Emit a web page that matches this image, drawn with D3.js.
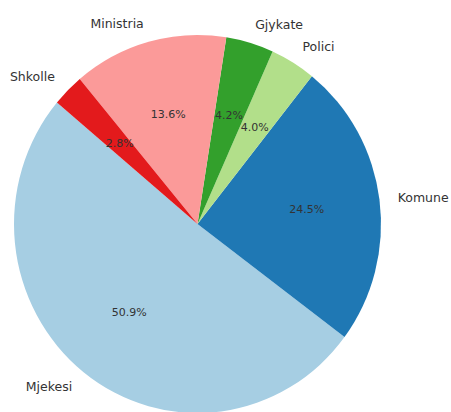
<!DOCTYPE html>
<html>
<head>
<meta charset="utf-8">
<script src="https://cdn.jsdelivr.net/npm/d3@7"></script>
<style>
  html, body { margin: 0; padding: 0; background: #fff; }
  svg { display: block; }
</style>
</head>
<body>
<svg id="chart" width="451" height="412"></svg>
<script>
const categories = ["Mjekesi", "Komune", "Polici", "Gjykate", "Ministria", "Shkolle"];
const values = [50.9, 24.5, 4.0, 4.2, 13.6, 2.8];
const colors = ["#a6cee3", "#1f78b4", "#b2df8a", "#33a02c", "#fb9a99", "#e31a1c"];

const W = 451, H = 412;
const cx = 197.5, cy = 224, RX = 183.5, RY = 189;
const startDeg = 140; // matplotlib-style start angle, counterclockwise

const svg = d3.select("#chart");
const g = svg.append("g").attr("transform", `translate(${cx},${cy})`);
const gp = g.append("g").attr("transform", `scale(1,${RY / RX})`);

const start = (90 - startDeg) * Math.PI / 180;
const pie = d3.pie().sort(null).value(d => d.v)
  .startAngle(start).endAngle(start - 2 * Math.PI);

const data = categories.map((c, i) => ({ c, v: values[i], col: colors[i] }));
const arcs = pie(data);
const total = d3.sum(values);

const arc = d3.arc().innerRadius(0).outerRadius(RX);

gp.selectAll("path.slice").data(arcs).enter().append("path")
  .attr("class", "slice")
  .attr("d", arc)
  .attr("fill", d => d.data.col);

const font = "DejaVu Sans, sans-serif";

function pos(d, f) {
  const a = (d.startAngle + d.endAngle) / 2;
  return [Math.sin(a) * RX * f, -Math.cos(a) * RY * f];
}

g.selectAll("text.lab").data(arcs).enter().append("text")
  .attr("class", "lab")
  .attr("x", d => pos(d, 1.1)[0])
  .attr("y", d => pos(d, 1.1)[1])
  .attr("text-anchor", d => pos(d, 1.1)[0] > 0 ? "start" : "end")
  .attr("dominant-baseline", "central")
  .attr("font-family", font)
  .attr("font-size", 12.5)
  .attr("fill", "#333")
  .text(d => d.data.c);

g.selectAll("text.pct").data(arcs).enter().append("text")
  .attr("class", "pct")
  .attr("x", d => pos(d, 0.6)[0])
  .attr("y", d => pos(d, 0.6)[1])
  .attr("text-anchor", "middle")
  .attr("dominant-baseline", "central")
  .attr("font-family", font)
  .attr("font-size", 11)
  .attr("fill", "#333")
  .text(d => (d.data.v / total * 100).toFixed(1) + "%");
</script>
</body>
</html>
